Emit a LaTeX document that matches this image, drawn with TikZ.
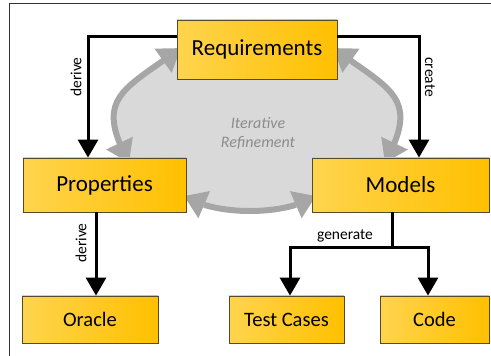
\documentclass[tikz,border=0pt]{standalone}
\usepackage{fontspec}
\setmainfont{Carlito}
\usetikzlibrary{arrows.meta,bending,calc}
\definecolor{boxL}{RGB}{255,212,78}
\definecolor{boxR}{RGB}{255,192,0}
\definecolor{boxD}{RGB}{85,75,40}
\definecolor{loopG}{RGB}{166,166,166}
\definecolor{fillG}{RGB}{217,217,217}
\definecolor{txtG}{RGB}{140,140,140}
\begin{document}
\begin{tikzpicture}[x=1pt,y=1pt,
  box/.style={draw=boxD,line width=0.8pt,left color=boxL,right color=boxR,
    inner sep=0pt,text=black},
  bigbox/.style={box,font=\fontsize{23}{27}\selectfont},
  smallbox/.style={box,font=\fontsize{20.5}{24}\selectfont},
  blk/.style={line width=3pt,line join=miter,-{Triangle[width=20pt,length=18pt]}},
  blkline/.style={line width=3pt,line join=miter},
  loop/.style={line width=6pt,draw=loopG,{Triangle[width=28pt,length=22pt]}-{Triangle[width=28pt,length=22pt]}},
  lbl/.style={font=\fontsize{15.5}{18}\selectfont,inner sep=1pt}]
\useasboundingbox (0,0) rectangle (491,356);
% frame
\draw[line width=1pt,draw=black!80] (9,0) -- (9,352) -- (491,352);
% loop background
\coordinate (LT) at (181,308);
\coordinate (LB) at (129,193);
\coordinate (RT) at (333,308);
\coordinate (RB) at (385,193);
\coordinate (BL) at (184,160);
\coordinate (BR) at (316,160);
\fill[fillG] (LT) to[out=216,in=118,looseness=1.5] (LB) -- (BL)
  .. controls (215,140) and (285,140) .. (BR) -- (RB)
  to[out=62,in=324,looseness=1.5] (RT) -- cycle;
\draw[loop] (LB) to[out=118,in=216,looseness=1.5] (LT);
\draw[loop] (RB) to[out=62,in=324,looseness=1.5] (RT);
\draw[loop] (BL) .. controls (215,140) and (285,140) .. (BR);
\node[font=\itshape\fontsize{16}{19}\selectfont,text=txtG,align=center] (iter) at (258,222.5) {Iterative\\Refinement};
% boxes
\node[bigbox,minimum width=160pt,minimum height=59pt] (req) at (257,306.5) {Requirements};
\node[bigbox,minimum width=163pt,minimum height=54pt] (prop) at (104.5,171) {Properties};
\node[bigbox,minimum width=177pt,minimum height=54pt] (mod) at (400.5,171) {Models};
\node[smallbox,minimum width=136pt,minimum height=47pt] (orc) at (90,36.5) {Oracle};
\node[smallbox,minimum width=115pt,minimum height=47pt] (tc) at (286.5,36.5) {Test Cases};
\node[smallbox,minimum width=109pt,minimum height=47pt] (code) at (434.5,36.5) {Code};
% connectors
\coordinate (dl) at (88,319);
\coordinate (cr) at (419,319);
\draw[blk] (dl -| req.west) -- (dl) -- (dl |- prop.north);
\draw[blk] (cr -| req.east) -- (cr) -- (cr |- mod.north);
\coordinate (po) at (96,100);
\draw[blk] (po |- prop.south) -- (po |- orc.north);
\coordinate (gb) at (392,108);
\coordinate (gl) at (290,108);
\coordinate (gr) at (428,108);
\draw[blkline] (gb |- mod.south) -- (gb);
\draw[blk] ($(gb)+(1.5,0)$) -- (gl) -- (gl |- tc.north);
\draw[blk] ($(gb)+(-1.5,0)$) -- (gr) -- (gr |- code.north);
% labels
\node[lbl,rotate=90] (l1) at (76,279) {derive};
\node[lbl,rotate=-90] (l2) at (430,279) {create};
\node[lbl,rotate=90] (l3) at (81,113) {derive};
\node[lbl] (l4) at (345,120) {generate};
\end{tikzpicture}
\end{document}
